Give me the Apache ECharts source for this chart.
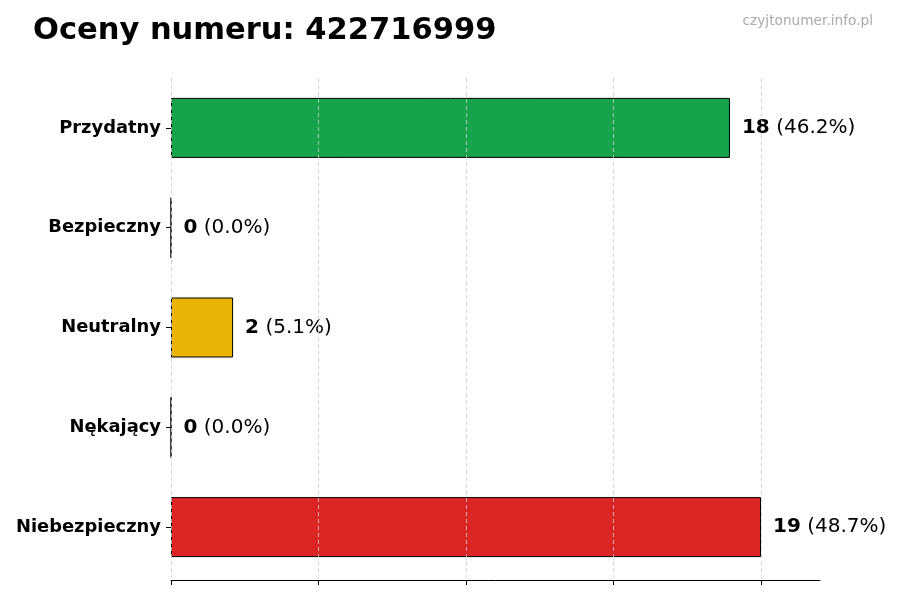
<!DOCTYPE html>
<html>
<head>
<meta charset="utf-8">
<script src="https://cdn.jsdelivr.net/npm/echarts@6/dist/echarts.min.js"></script>
<style>
  html, body { margin: 0; padding: 0; background: #fff; }
  #main { width: 900px; height: 600px; }
</style>
</head>
<body>
<div id="main"></div>
<script>
var dom = document.getElementById("main");
var chart = echarts.init(dom);

// ratings, top to bottom
var categories = ["Przydatny", "Bezpieczny", "Neutralny", "Nękający", "Niebezpieczny"];
var counts = [18, 0, 2, 0, 19];
var colors = ["#16a34a", "#2563eb", "#eab308", "#f97316", "#dc2626"];
var tickValues = [0, 4.75, 9.5, 14.25, 19];

var total = counts.reduce(function (a, b) { return a + b; }, 0);

chart.setOption({
  animation: false,
  textStyle: { fontFamily: "DejaVu Sans" },
  title: [
    {
      text: "Oceny numeru: 422716999",
      left: 28,
      top: 11,
      textStyle: { fontSize: 30.5, fontWeight: "bold", color: "#000" },
    },
    {
      text: "czyjtonumer.info.pl",
      right: 22,
      top: 9,
      textStyle: { fontSize: 13.7, fontWeight: "normal", color: "#aaaaaa" },
    },
  ],
  grid: { left: 171, right: 80, top: 78, bottom: 23, containLabel: false },
  xAxis: {
    type: "value",
    min: 0,
    max: 20.9,
    z: 5,
    offset: 3,
    axisLine: { show: true, lineStyle: { color: "#000", width: 1 } },
    axisTick: {
      show: true,
      customValues: tickValues,
      length: 5,
      lineStyle: { color: "#000" },
    },
    axisLabel: { show: false },
    splitLine: {
      show: true,
      lineStyle: { color: "#cccccc", type: [4, 3], width: 0.8 },
    },
  },
  yAxis: {
    type: "category",
    inverse: true,
    data: categories,
    axisLine: { show: false },
    axisTick: {
      show: true,
      alignWithLabel: true,
      length: 5,
      lineStyle: { color: "#000" },
    },
    axisLabel: {
      margin: 10,
      fontSize: 17.9,
      fontWeight: "bold",
      color: "#000",
      padding: [3, 0, 0, 0],
    },
  },
  series: [
    {
      type: "bar",
      barWidth: 60,
      data: counts.map(function (v, i) {
        return {
          value: v,
          itemStyle: { color: colors[i] },
        };
      }),
      itemStyle: { borderColor: "#000", borderWidth: 1 },
      label: {
        show: true,
        position: "right",
        distance: 12,
        formatter: function (p) {
          var pct = (p.value / total * 100).toFixed(1);
          return "{b|" + p.value + "}{n| (" + pct + "%)}";
        },
        rich: {
          b: { fontSize: 20, fontWeight: "bold", color: "#000", fontFamily: "DejaVu Sans" },
          n: { fontSize: 20, color: "#000", fontFamily: "DejaVu Sans" },
        },
      },
    },
  ],
});
</script>
</body>
</html>
